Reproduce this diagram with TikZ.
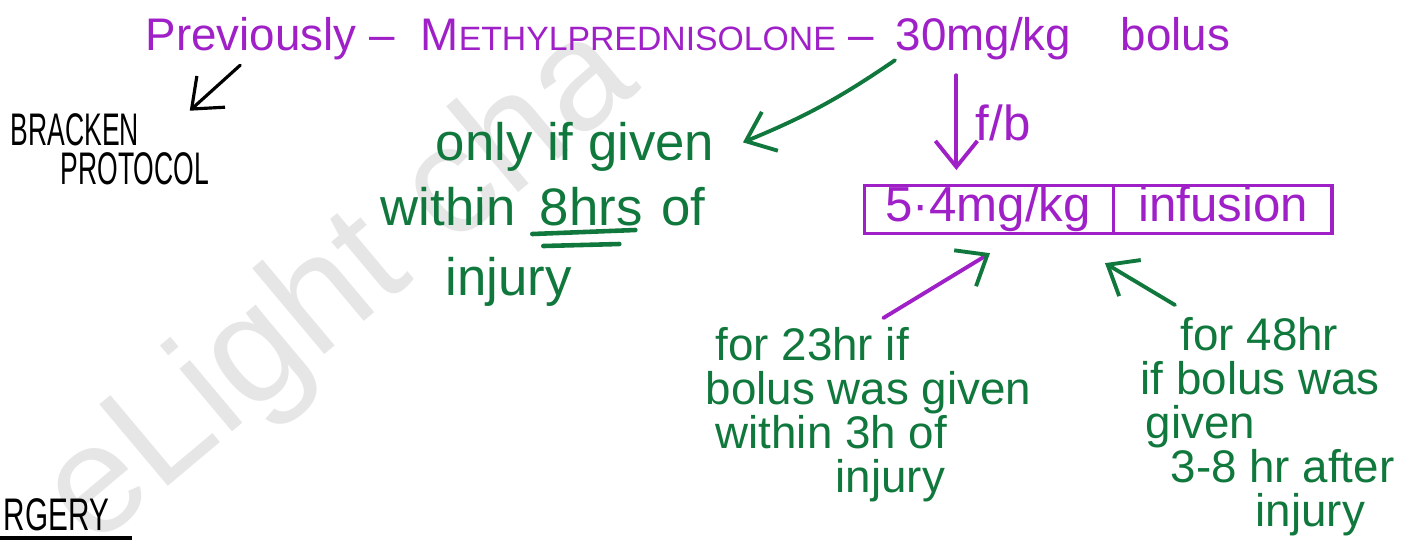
\documentclass[tikz,border=0pt]{standalone}
\usepackage{fontspec}
\setmainfont{Liberation Sans}
\usepackage{xcolor}
\definecolor{penpurple}{HTML}{A020C8}
\definecolor{pengreen}{HTML}{10783C}
\definecolor{wmgray}{HTML}{E6E6E6}
\usetikzlibrary{positioning, arrows.meta, calc, shapes.multipart}

\begin{document}
\setlength{\lineskiplimit}{-30pt}
\begin{tikzpicture}[
  x=0.01cm, y=-0.01cm,
  >={Straight Barb[length=2.6mm,width=4.2mm]},
  ink/.style={inner sep=0pt, anchor=base west},
  purpletxt/.style={ink, text=penpurple, font=\fontsize{13}{13}\selectfont},
  greentxt/.style={ink, text=pengreen, font=\fontsize{15}{15}\selectfont},
  greenblock/.style={inner sep=0pt, anchor=north west, align=left, text=pengreen,
    font=\fontsize{13}{12.5}\selectfont},
  blacktxt/.style={ink, text=black, font=\fontsize{13}{11}\selectfont, align=left},
  infusionbox/.style={
    rectangle split, rectangle split horizontal, rectangle split parts=2,
    draw=penpurple, line width=0.9pt, text=penpurple, inner sep=0pt,
    font=\fontsize{14}{14}\selectfont
  },
  pen/.style={->, line width=1.1pt, line cap=round}
]
\useasboundingbox (0,0) rectangle (1417,541);

% watermark
\node[anchor=base west, inner sep=0pt, rotate=40, text=wmgray,
  font=\fontsize{44}{44}\selectfont] (wmark) at (92,550) {eLight\hspace{0.3em}cha};

% heading line
\node[purpletxt] (prev) at (145,50) {Previously --};
\node[purpletxt] (methyl) at (420,50)
  {M{\fontsize{9.6}{10}\selectfont ETHYLPREDNISOLONE} --};
\node[purpletxt] (dose) at (895,50) {30mg/kg};
\node[purpletxt] (bolus) at (1120,50) {bolus};

\node[blacktxt] (bracken) at (10,184)
  {\scalebox{0.58}[1]{BRACKEN}\\\hspace*{0.5cm}\scalebox{0.58}[1]{PROTOCOL}};
\draw[pen, line width=0.9pt] ($(prev.south)+(-30,5)$) -- ($(bracken.north east)+(-20,-2)$);

% only if given ...
\node[greentxt] (only) at (435,160) {only if given};
\node[greentxt] (within) at (380,225) {within};
\node[greentxt, base right=0.23cm of within] (hrs) {8hrs};
\node[greentxt, base right=0.17cm of hrs] (of) {of};
\node[greentxt] (injury) at (445,295) {injury};
\draw[pengreen, line width=1.3pt, line cap=round]
  ($(hrs.base west)+(-7,9)$) -- ($(hrs.base east)+(-8,5)$);
\draw[pengreen, line width=1.3pt, line cap=round]
  ($(hrs.base west)+(4,21)$) -- ($(hrs.base east)+(-24,19)$);
\draw[pen, pengreen] (dose.south west) to[bend left=6] ($(only.east)+(28,-4)$);

% infusion
\node[infusionbox, anchor=north west] (infbox) at (863,184)
  {\makebox[2.47cm]{\rule[-3.5pt]{0pt}{13pt}5·4mg/kg}%
   \nodepart{two}\makebox[2.17cm]{\rule[-3.5pt]{0pt}{13pt}infusion}};
\draw[pen, penpurple] ($(dose.south)+(-27,15)$) -- ($(dose.south |- infbox.north)+(-27,-14)$);
\node[purpletxt, font=\fontsize{14}{14}\selectfont] (fb) at (975,140) {f/b};

\node[greenblock] (for23) at (705,327)
  {\hspace*{0.1cm}for 23hr if\\bolus was given\\\hspace*{0.1cm}within 3h of\\\hspace*{1.3cm}injury};
\node[greenblock] (for48) at (1140,317)
  {\hspace*{0.4cm}for 48hr\\if bolus was\\\hspace*{0.05cm}given\\\hspace*{0.3cm}3-8 hr after\\\hspace*{1.15cm}injury};

\draw[pen, penpurple, -{Straight Barb[length=2.6mm,width=4.2mm,color=pengreen]}]
  ($(for23.north)+(15,-9)$) -- ($(infbox.south west)+(127,18)$);
\draw[pen, pengreen] ($(for48.north west)+(35,-12)$) -- ($(infbox.south west)+(242,28)$);

% bottom left heading
\node[blacktxt] (surgery) at (3,530) {\scalebox{0.65}[1]{RGERY}};
\draw[line width=1pt] ($(surgery.south west)+(-3,7)$) -- ($(surgery.south east)+(22,7)$);

\end{tikzpicture}
\end{document}
